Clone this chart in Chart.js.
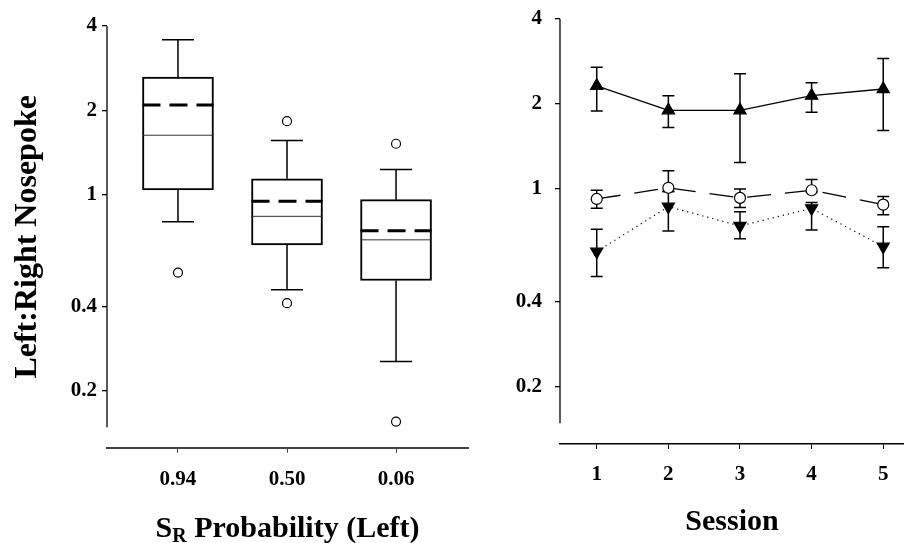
<!DOCTYPE html>
<html>
<head>
<meta charset="utf-8">
<script src="https://cdn.jsdelivr.net/npm/chart.js@4.4.0/dist/chart.umd.min.js"></script>
<style>
  body { margin: 0; background: #fff; }
  #left { position: absolute; left: 0; top: 0; }
  #right { position: absolute; left: 480px; top: 0; }
</style>
</head>
<body>
<canvas id="left" width="480" height="543"></canvas>
<canvas id="right" width="424" height="543"></canvas>
<script>
// left panel: box plots for each left-side reinforcement probability
let probLabels = ['0.94', '0.50', '0.06'];
let boxMin = [0.80, 0.458, 0.254];
let boxQ1 = [1.04, 0.662, 0.494];
let boxMedian = [1.63, 0.837, 0.69];
let boxMean = [2.09, 0.947, 0.744];
let boxQ3 = [2.63, 1.14, 0.96];
let boxMax = [3.57, 1.56, 1.23];
let outlierCat = [0, 1, 1, 2, 2];
let outlierVal = [0.527, 1.83, 0.41, 1.52, 0.155];

// right panel: mean per session with error bars, one series per condition
let sessions = [1, 2, 3, 4, 5];
let upMean = [2.32, 1.90, 1.90, 2.14, 2.26];
let upLo = [1.89, 1.65, 1.24, 1.87, 1.61];
let upHi = [2.70, 2.14, 2.56, 2.38, 2.90];
let circMean = [0.922, 1.01, 0.93, 0.99, 0.88];
let circLo = [0.854, 0.98, 0.86, 0.975, 0.81];
let circHi = [0.99, 1.16, 1.0, 1.08, 0.94];
let downMean = [0.60, 0.866, 0.74, 0.854, 0.625];
let downLo = [0.49, 0.71, 0.667, 0.716, 0.526];
let downHi = [0.72, 0.98, 0.83, 0.895, 0.735];

let yTicks = [0.2, 0.4, 1, 2, 4];

Chart.defaults.font.family = '"Liberation Serif", "Times New Roman", serif';
Chart.defaults.color = '#000';

const tickFont = { size: 21, weight: 'bold' };
const yAxisEnd = 0.148;   // y axis line stops short of the x axis

function yScale(width, pad) {
    return {
        type: 'logarithmic',
        min: 0.125,
        max: 4,
        border: { display: false },
        grid: { drawOnChartArea: false, drawTicks: true, tickLength: 5, color: '#000', lineWidth: 1.3 },
        ticks: { font: tickFont, padding: pad, callback: v => String(v) },
        afterBuildTicks: s => { s.ticks = yTicks.map(v => ({ value: v })); },
        // fixed width, and no extra room asked for the end labels
        afterFit: s => { s.width = width; s.paddingTop = 0; s.paddingBottom = 0; }
    };
}

function drawYLine(chart) {
    const ctx = chart.ctx, y = chart.scales.y, x = chart.chartArea.left;
    ctx.save();
    ctx.strokeStyle = '#000';
    ctx.lineWidth = 1.3;
    ctx.beginPath();
    ctx.moveTo(x, y.getPixelForValue(4));
    ctx.lineTo(x, y.getPixelForValue(yAxisEnd));
    ctx.stroke();
    ctx.restore();
}

// whiskers, median, mean and the axis title with subscript
const boxPlugin = {
    id: 'boxParts',
    afterDatasetsDraw(chart) {
        const ctx = chart.ctx, y = chart.scales.y;
        const bars = chart.getDatasetMeta(0).data;
        ctx.save();
        bars.forEach((bar, i) => {
            const cx = bar.x, half = bar.width / 2;
            const pMax = y.getPixelForValue(boxMax[i]), pMin = y.getPixelForValue(boxMin[i]);
            ctx.setLineDash([]);
            ctx.lineWidth = 1.5;
            ctx.strokeStyle = '#000';
            ctx.beginPath();
            ctx.moveTo(cx, y.getPixelForValue(boxQ3[i])); ctx.lineTo(cx, pMax);
            ctx.moveTo(cx, y.getPixelForValue(boxQ1[i])); ctx.lineTo(cx, pMin);
            ctx.moveTo(cx - 16, pMax); ctx.lineTo(cx + 16, pMax);
            ctx.moveTo(cx - 16, pMin); ctx.lineTo(cx + 16, pMin);
            ctx.stroke();
            // median
            ctx.lineWidth = 1;
            ctx.strokeStyle = '#333';
            const pMed = y.getPixelForValue(boxMedian[i]);
            ctx.beginPath(); ctx.moveTo(cx - half, pMed); ctx.lineTo(cx + half, pMed); ctx.stroke();
            // mean
            ctx.strokeStyle = '#000';
            ctx.lineWidth = 3;
            ctx.setLineDash([18, 9]);
            const pMean = y.getPixelForValue(boxMean[i]);
            ctx.beginPath(); ctx.moveTo(cx - half, pMean); ctx.lineTo(cx + half, pMean); ctx.stroke();
        });
        ctx.restore();
        drawYLine(chart);
    },
    afterDraw(chart) {
        const ctx = chart.ctx, a = chart.chartArea;
        const big = 'bold 30px "Liberation Serif"', small = 'bold 20px "Liberation Serif"';
        const rest = ' Probability (Left)';
        ctx.save();
        ctx.fillStyle = '#000';
        ctx.textBaseline = 'alphabetic';
        ctx.font = big;
        const sW = ctx.measureText('S').width, restW = ctx.measureText(rest).width;
        ctx.font = small;
        const rW = ctx.measureText('R').width;
        let x = (a.left + a.right) / 2 - (sW + rW + restW) / 2;
        const base = 537;
        ctx.font = big; ctx.fillText('S', x, base); x += sW;
        ctx.font = small; ctx.fillText('R', x, base + 5); x += rW;
        ctx.font = big; ctx.fillText(rest, x, base);
        ctx.restore();
    }
};

const errPlugin = {
    id: 'errBars',
    beforeDatasetsDraw(chart) {
        const ctx = chart.ctx, y = chart.scales.y;
        ctx.save();
        ctx.strokeStyle = '#000';
        ctx.lineWidth = 1.5;
        chart.data.datasets.forEach((ds, d) => {
            chart.getDatasetMeta(d).data.forEach((p, i) => {
                const top = y.getPixelForValue(ds.errHi[i]), bot = y.getPixelForValue(ds.errLo[i]);
                ctx.beginPath();
                ctx.moveTo(p.x, top); ctx.lineTo(p.x, bot);
                ctx.moveTo(p.x - 6, top); ctx.lineTo(p.x + 6, top);
                ctx.moveTo(p.x - 6, bot); ctx.lineTo(p.x + 6, bot);
                ctx.stroke();
            });
        });
        ctx.restore();
    },
    afterDatasetsDraw(chart) {
        drawYLine(chart);
    }
};

new Chart(document.getElementById('left'), {
    type: 'bar',
    data: {
        datasets: [{
            type: 'bar',
            data: probLabels.map((l, i) => ({ x: i, y: [boxQ1[i], boxQ3[i]] })),
            backgroundColor: '#fff',
            borderColor: '#000',
            borderWidth: 2,
            borderSkipped: false,
            barThickness: 71
        }, {
            type: 'scatter',
            data: outlierCat.map((c, i) => ({ x: c, y: outlierVal[i] })),
            pointRadius: 4.5,
            pointBackgroundColor: '#fff',
            pointBorderColor: '#000',
            pointBorderWidth: 1.2
        }]
    },
    options: {
        responsive: false,
        animation: false,
        layout: { autoPadding: false, padding: { top: 26, right: 12, left: 0, bottom: 0 } },
        plugins: { legend: { display: false }, tooltip: { enabled: false } },
        scales: {
            x: {
                type: 'linear',
                offset: false,
                min: -0.651,
                max: 2.66,
                border: { display: true, color: '#444', width: 2 },
                grid: { offset: false, drawOnChartArea: false, drawTicks: true, tickLength: 5, color: '#444' },
                ticks: { font: tickFont, padding: 14, callback: (v, i) => probLabels[i] },
                afterBuildTicks: s => { s.ticks = probLabels.map((l, i) => ({ value: i })); },
                afterFit: s => { s.height = 95.3; }
            },
            y: Object.assign(yScale(107, 5), {
                title: {
                    display: true,
                    text: 'Left:Right Nosepoke',
                    font: { size: 32, weight: 'bold' },
                    padding: { top: 9, bottom: 0 }
                }
            })
        }
    },
    plugins: [boxPlugin]
});

new Chart(document.getElementById('right'), {
    type: 'line',
    data: {
        datasets: [{
            data: sessions.map((s, i) => ({ x: s, y: upMean[i] })),
            errLo: upLo, errHi: upHi,
            borderColor: '#000',
            borderWidth: 1.3,
            pointStyle: 'triangle',
            pointRadius: 7,
            pointBackgroundColor: '#000',
            pointBorderColor: '#000'
        }, {
            data: sessions.map((s, i) => ({ x: s, y: circMean[i] })),
            errLo: circLo, errHi: circHi,
            borderColor: '#000',
            borderWidth: 1.3,
            borderDash: [24, 14],
            pointStyle: 'circle',
            pointRadius: 5.5,
            pointBackgroundColor: '#fff',
            pointBorderColor: '#000',
            pointBorderWidth: 1.2
        }, {
            data: sessions.map((s, i) => ({ x: s, y: downMean[i] })),
            errLo: downLo, errHi: downHi,
            borderColor: '#000',
            borderWidth: 1.2,
            borderDash: [1.2, 4],
            pointStyle: 'triangle',
            pointRotation: 180,
            pointRadius: 7,
            pointBackgroundColor: '#000',
            pointBorderColor: '#000'
        }]
    },
    options: {
        responsive: false,
        animation: false,
        clip: false,
        layout: { autoPadding: false, padding: { top: 19, right: 0, left: 0, bottom: 0 } },
        plugins: { legend: { display: false }, tooltip: { enabled: false } },
        scales: {
            x: {
                type: 'linear',
                min: 0.487,
                max: 5.29,
                border: { display: true, color: '#000', width: 1.5 },
                grid: { drawOnChartArea: false, drawTicks: true, tickLength: 5, color: '#000' },
                ticks: { font: tickFont, padding: 13, callback: v => String(v) },
                afterBuildTicks: s => { s.ticks = sessions.map(v => ({ value: v })); },
                afterFit: s => { s.height = 99; },
                title: {
                    display: true,
                    text: 'Session',
                    font: { size: 30, weight: 'bold' },
                    padding: { top: 0, bottom: 3 }
                }
            },
            y: yScale(80, 13)
        }
    },
    plugins: [errPlugin]
});
</script>
</body>
</html>
